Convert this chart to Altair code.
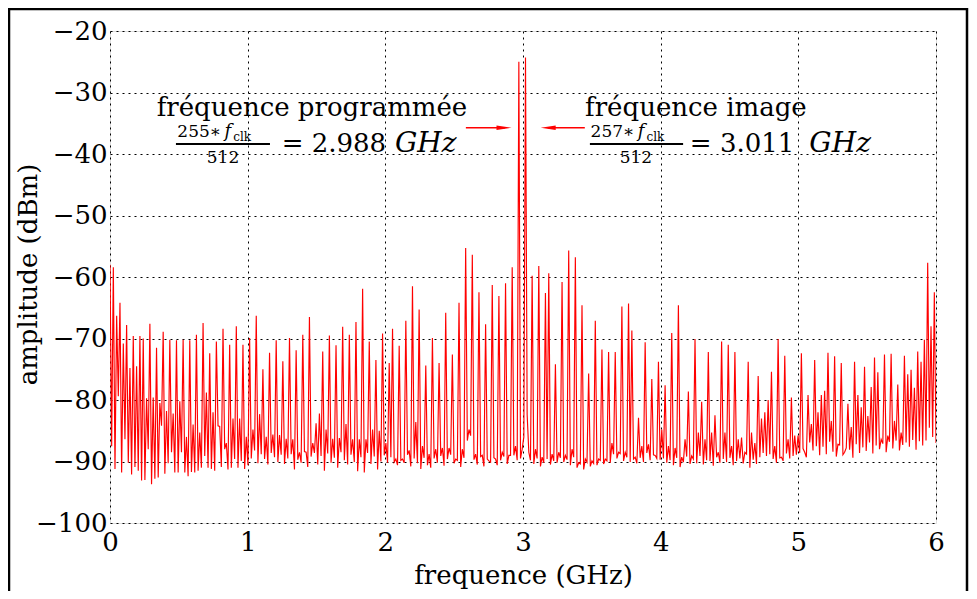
import altair as alt
import pandas as pd

# Spectrum: alternating (spike, floor) amplitude pairs in dBm,
# one list per ~1 GHz stretch, uniformly spaced in frequency over 0..6 GHz.
seg0 = [-58, -87.5, -58.4, -91.2, -66.3, -79.4, -64.2, -91.8, -70.8, -86.4,
        -67.8, -90.2, -74.8, -92.1, -69.6, -90.9, -74.5, -91.5, -69.6, -93.1,
        -70, -93, -79.7, -88, -67.6, -93.7, -79.6, -92.8, -71.5, -92.6,
        -80.5, -84.2, -68.9, -92, -81.8, -90.3, -70.2, -88.5, -82.2, -91.8,
        -70.3, -91.8, -80.2, -88.5, -70.2, -91.8, -86, -92.4, -70.3, -91.7,
        -84, -91.8, -69.4, -91.5, -85.3, -91, -67.5, -89.1, -78.8, -91,
        -72.4, -91.2, -82, -91.5, -70.5, -84.2, -84.3, -90.9, -68.4, -88,
        -87, -91.3, -71, -91, -83, -89.6, -68, -91, -83, -89.9,
        -71, -91.2]
seg1 = [-86, -90.6, -69.9, -89.5, -84.8, -88.2, -66.3, -90.3, -82.3, -88.8,
        -75, -89.6, -86, -90.5, -72.3, -88.6, -85.6, -89.3, -70.3, -90.1,
        -85.7, -88.9, -73.7, -90.4, -86.3, -89.5, -69.9, -88.8, -86.4, -91.3,
        -71.9, -89.7, -88.5, -90.2, -69.4, -88.4, -88.5, -90.9, -66.5, -89.2,
        -87, -88.6, -83.8, -90.5, -82.2, -89.1, -72.1, -91.5, -84.8, -88.7,
        -69.5, -90.2, -86.3, -89.4, -71.1, -91, -86.2, -88.5, -68.1, -89.8,
        -83.9, -90.5, -69.4, -88.9, -86.4, -90.1, -67.3, -91.6, -86.4, -89.3,
        -61.9, -91.8, -86.4, -88.6, -70.5, -90.4, -84.8, -89.2, -73.5, -91.3,
        -85, -90, -69.2, -89]
seg2 = [-87, -90.2, -74, -89.3, -68.4, -90.1, -89.6, -90.6, -71.2, -89.8,
        -89.6, -90.2, -67.1, -88.9, -88.2, -90.8, -61.5, -89.5, -83.6, -90.3,
        -65.3, -91.2, -87.5, -89.4, -74.4, -90.6, -88.8, -91, -69.9, -89.5,
        -88, -90.2, -74, -89.1, -87.8, -90.7, -65.8, -89.6, -87.8, -88.9,
        -72.6, -90.3, -89.6, -89.8, -64.2, -90.9, -88, -89.4, -55.3, -86.6,
        -84.8, -85.8, -56.4, -89.7, -88.8, -90.5, -62.5, -89.2, -89, -90.8,
        -67.7, -89.6, -89.9, -90.1, -61.3, -89.4, -89.6, -90.6, -63.1, -89.8,
        -88.5, -89.2, -61, -90.4, -89, -89, -58.4, -89, -87.5, -89.8,
        -25.0, -89.5, -88, -86, -24.3, -82.4]
seg3 = [-88.5, -89.8, -59.8, -90.4, -88, -89.5, -58.2, -90.8, -89.3, -90.2,
        -62.6, -89.6, -59.4, -90.5, -88.8, -89.9, -74.2, -90.2, -88.5, -89.4,
        -60.8, -90.1, -89, -89.7, -55.7, -90.6, -88, -89.3, -56.8, -91,
        -90.2, -90.4, -64.6, -91.3, -89.6, -90.1, -75.7, -90.8, -89.9, -90.3,
        -67.1, -90.6, -89.6, -89.8, -71.8, -90.4, -89.6, -89.9, -72.2, -90.2,
        -87, -88.8, -72.2, -89.5, -88.5, -88.7, -64.8, -89.9, -88.5, -89.3,
        -64.3, -90.1, -68.7, -89.6, -89.3, -90.3, -82.9, -89.4, -87.5, -90.1,
        -70.6, -88.6, -87.2, -89.8, -76.6, -88.9, -89, -89.5, -73.8, -89.7]
seg4 = [-84.8, -89.5, -77.6, -90.2, -87.5, -89.8, -69.1, -90.6, -87.8, -89.4,
        -64.6, -90.9, -89.3, -90.1, -86.4, -89.2, -78.6, -90.4, -89.1, -89.6,
        -70.1, -90.3, -85.3, -89.1, -80.3, -90.5, -86.4, -89.8, -72.2, -89.9,
        -85.3, -90.7, -82.5, -89.3, -88.5, -90.2, -70.5, -89.6, -85.3, -90.1,
        -71, -89.4, -87.5, -90.6, -72.2, -89.9, -86.4, -89.5, -86.1, -90.3,
        -88.5, -88.8, -73.8, -91, -85.3, -89.7, -87, -90.4, -76.1, -89.3,
        -83, -88.6, -82, -89.1, -80, -88.8, -75.4, -89.6, -87.5, -90.2,
        -70.1, -89.4, -89.3, -89.9, -72.8, -88.7, -86.4, -89.5, -79.6, -89.1,
        -85.8, -88.9]
seg5 = [-85.8, -88.6, -72.4, -87.9, -88.5, -89.3, -79.2, -86.9, -83.9, -88.2,
        -73.5, -87.5, -82, -89, -79.2, -87.6, -78.5, -88.8, -72.3, -86.8,
        -83.4, -88.4, -72.9, -89.2, -87.2, -87.3, -74, -88.9, -88.5, -87.8,
        -80.6, -88.1, -84.4, -89.4, -73.8, -87.2, -79.2, -88.6, -81.2, -87.7,
        -74.6, -88.3, -82.6, -86.9, -77.9, -88.7, -73.1, -87.4, -75.5, -88,
        -86.4, -87.1, -72.6, -88.5, -85.8, -86.8, -72.5, -87.9, -83.4, -86.6,
        -77.5, -88.2, -85.3, -87.3, -72.8, -86.9, -75.8, -87.6, -75.1, -86.5,
        -78, -88.1, -72.1, -86.7, -73.8, -87.4, -70.2, -86.6, -57.7, -84.5,
        -68, -86, -62.5, -87]

amps = seg0 + seg1 + seg2 + seg3 + seg4 + seg5
n = len(amps)
freqs = [6.0 * i / (n - 1) for i in range(n)]
spec = pd.DataFrame({"f": freqs, "a": amps})

x_ticks = [0, 1, 2, 3, 4, 5, 6]
y_ticks = [-100, -90, -80, -70, -60, -50, -40, -30, -20]

FONT = "DejaVu Serif"
xs = alt.Scale(domain=[0, 6], nice=False, zero=False)
ys = alt.Scale(domain=[-100, -20], nice=False, zero=False)
xaxis = alt.Axis(values=x_ticks, format="d", grid=True, gridColor="black",
                 gridDash=[2, 4], gridOpacity=1, gridWidth=1, ticks=False,
                 domain=False, labelFont=FONT, labelFontSize=26, labelColor="black",
                 labelPadding=6, labelFlush=False,
                 title="frequence (GHz)", titleFont=FONT, titleFontSize=26,
                 titleFontWeight="normal", titleColor="black",
                 titleY=60, titleBaseline="alphabetic")
yaxis = alt.Axis(values=y_ticks, grid=True, gridColor="black",
                 gridDash=[2, 4], gridOpacity=1, gridWidth=1, ticks=False,
                 domain=False, labelFont=FONT, labelFontSize=26, labelColor="black",
                 labelPadding=3, labelFlush=False,
                 labelExpr="replace(datum.label, '-', '\u2212')",
                 title="amplitude (dBm)", titleFont=FONT, titleFontSize=26,
                 titleFontWeight="normal", titleColor="black",
                 titleX=-82, titleY=243, titleAngle=270,
                 titleAlign="center", titleBaseline="middle")


def X(field="f"):
    return alt.X(f"{field}:Q", scale=xs, axis=xaxis)


def Y(field="a"):
    return alt.Y(f"{field}:Q", scale=ys, axis=yaxis)


line = alt.Chart(spec).mark_line(color="#ff0000", strokeWidth=1.15, clip=True).encode(
    x=X(), y=Y())


def txt(text, f, a, size=26, align="left", style="normal"):
    d = pd.DataFrame({"f": [f], "a": [a], "t": [text]})
    return alt.Chart(d).mark_text(font=FONT, fontSize=size, align=align,
                                  baseline="alphabetic", fontStyle=style,
                                  color="black").encode(x=X(), y=Y(), text="t:N")


texts = [
    txt("fréquence programmée", 1.467, -33.9, align="center"),
    txt("255\u2217", 0.489, -37.3, size=17),
    txt("f", 0.832, -37.3, size=18, style="italic"),
    txt("clk", 0.895, -37.85, size=12),
    txt("512", 0.821, -41.4, size=17, align="center"),
    txt("= 2.988", 1.247, -39.6),
    txt("GHz", 2.07, -39.6, size=28, style="italic"),
    txt("fréquence image", 4.256, -33.9, align="center"),
    txt("257\u2217", 3.491, -37.3, size=17),
    txt("f", 3.834, -37.3, size=18, style="italic"),
    txt("clk", 3.897, -37.85, size=12),
    txt("512", 3.82, -41.4, size=17, align="center"),
    txt("= 3.011", 4.212, -39.6),
    txt("GHz", 5.08, -39.6, size=28, style="italic"),
]

bars = alt.Chart(pd.DataFrame({"f": [0.479, 3.486], "f2": [1.162, 4.163],
                               "a": [-38.37, -38.37]})).mark_rule(
    color="black", strokeWidth=2).encode(x=X(), x2="f2:Q", y=Y())

shafts = alt.Chart(pd.DataFrame({"f": [2.585, 3.18], "f2": [2.87, 3.449],
                                 "a": [-35.72, -35.72]})).mark_rule(
    color="#ff0000", strokeWidth=1.5).encode(x=X(), x2="f2:Q", y=Y())

head_r = alt.Chart(pd.DataFrame({"f": [2.862], "a": [-35.72]})).mark_point(
    shape="M-1,-0.3L1,0L-1,0.3Z", filled=True, size=225, color="#ff0000",
    opacity=1, strokeWidth=0).encode(x=X(), y=Y())
head_l = alt.Chart(pd.DataFrame({"f": [3.183], "a": [-35.72]})).mark_point(
    shape="M1,-0.3L-1,0L1,0.3Z", filled=True, size=225, color="#ff0000",
    opacity=1, strokeWidth=0).encode(x=X(), y=Y())

frame = alt.Chart(pd.DataFrame({"k": [0]})).mark_rect(
    filled=False, stroke="black", strokeWidth=2.5, fill=None).encode(
    x=alt.value(-101), x2=alt.value(857), y=alt.value(-22), y2=alt.value(620))

chart = alt.layer(line, bars, shafts, head_r, head_l, *texts, frame).properties(
    width=826, height=492,
    padding={"left": 102, "top": 23, "right": 33, "bottom": 68},
    autosize=alt.AutoSizeParams(type="none"),
).configure_view(stroke="black", strokeWidth=1.5).configure(background="white")

chart.save("out.html", embed_options={"renderer": "svg", "actions": False})
